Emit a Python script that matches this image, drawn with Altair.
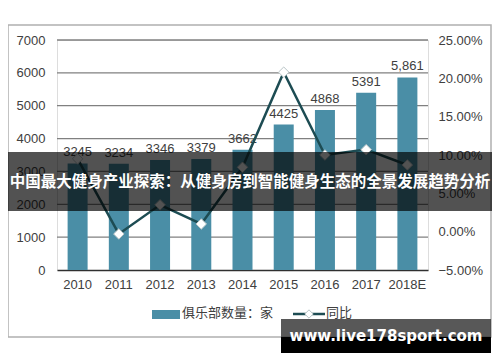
import altair as alt
import pandas as pd

years = ["2010", "2011", "2012", "2013", "2014", "2015", "2016", "2017", "2018E"]
clubs = [3245, 3234, 3346, 3379, 3662, 4425, 4868, 5391, 5861]
club_labels = ["3245", "3234", "3346", "3379", "3662", "4425", "4868", "5391", "5,861"]
growth = [0.095, -0.003, 0.035, 0.010, 0.084, 0.208, 0.100, 0.107, 0.087]
left_ticks = [0, 1000, 2000, 3000, 4000, 5000, 6000, 7000]
right_ticks = [-0.05, 0, 0.05, 0.10, 0.15, 0.20, 0.25]

df = pd.DataFrame({"year": years, "clubs": clubs, "label": club_labels, "growth": growth})
grid_df = pd.DataFrame({"gridv": left_ticks[1:]})
one = pd.DataFrame({"k": [0]})

TXT = "#404040"
BAR = "#4a8ea6"
LINE = "#1d4c53"
FONT = "Liberation Sans"

xenc = alt.X("year:N", sort=years,
             scale=alt.Scale(paddingInner=0, paddingOuter=0),
             axis=alt.Axis(title=None, labelAngle=0, labelFontSize=13, labelColor=TXT,
                           labelFont=FONT, ticks=False, domainColor="#303030",
                           domainWidth=1.5, labelPadding=8, grid=False, labelOverlap=False))

frame = alt.Chart(one).mark_rect(fill="transparent", stroke="#b0b0b0", strokeWidth=1.5).encode(
    x=alt.value(-49), x2=alt.value(434), y=alt.value(-15), y2=alt.value(297))

# gridlines: own layer with its own (identical) scale and no axis
gridlayer = alt.Chart(grid_df).mark_rule(color="#808080", strokeWidth=1.3).encode(
    y=alt.Y("gridv:Q", scale=alt.Scale(domain=[0, 7000], nice=False), axis=None),
    x=alt.value(0), x2=alt.value(371))

yl = alt.Y("clubs:Q", scale=alt.Scale(domain=[0, 7000], nice=False),
           axis=alt.Axis(title=None, orient="left", values=left_ticks, format="d", tickCount=8,
                         labelFontSize=13, labelColor=TXT, labelFont=FONT, ticks=False,
                         domain=False, grid=False, labelPadding=12, labelOverlap=False))
lbase = alt.Chart(df).encode(x=xenc, y=yl)
left = alt.layer(
    lbase.mark_bar(size=20, color=BAR),
    lbase.mark_text(baseline="bottom", dy=-4, fontSize=13, color=TXT, font=FONT).encode(text="label:N"),
)

yr = alt.Y("growth:Q", scale=alt.Scale(domain=[-0.05, 0.25], nice=False),
           axis=alt.Axis(title=None, orient="right", values=right_ticks, tickCount=7,
                         format=".2%", labelFontSize=13, labelColor=TXT, labelFont=FONT,
                         ticks=False, domain=False, grid=False, labelPadding=10,
                         labelOverlap=False))
rbase = alt.Chart(df).encode(x=alt.X("year:N", sort=years), y=yr)
right = alt.layer(
    rbase.mark_line(color=LINE, strokeWidth=2.5),
    rbase.mark_point(shape="diamond", size=110, filled=True, fill="white",
                     stroke="#b8c4c6", strokeWidth=1, opacity=1),
)

# legend
leg_sw = alt.Chart(one).mark_rect(color=BAR).encode(
    x=alt.value(95), x2=alt.value(123), y=alt.value(270), y2=alt.value(279))
leg_t1 = alt.Chart(one).mark_text(align="left", baseline="middle", fontSize=13, color=TXT,
                                  font="Noto Sans CJK SC").encode(
    x=alt.value(125), y=alt.value(273), text=alt.value("俱乐部数量：家"))
leg_ln = alt.Chart(one).mark_rule(color=LINE, strokeWidth=2.5).encode(
    x=alt.value(236), x2=alt.value(268), y=alt.value(274))
leg_pt = alt.Chart(one).mark_point(shape="diamond", size=70, filled=True, fill="white",
                                   stroke="#b8c4c6", strokeWidth=1, opacity=1).encode(
    x=alt.value(252), y=alt.value(274))
leg_t2 = alt.Chart(one).mark_text(align="left", baseline="middle", fontSize=13, color=TXT,
                                  font="Noto Sans CJK SC").encode(
    x=alt.value(269), y=alt.value(273), text=alt.value("同比"))

# overlays
banner = alt.Chart(one).mark_rect(color="black", opacity=0.68).encode(
    x=alt.value(-57), x2=alt.value(443), y=alt.value(112), y2=alt.value(171))
banner_t = alt.Chart(one).mark_text(align="center", baseline="middle", fontSize=15.5,
                                    fontWeight="bold", color="white",
                                    font="Noto Sans CJK SC").encode(
    x=alt.value(193), y=alt.value(142),
    text=alt.value("中国最大健身产业探索：从健身房到智能健身生态的全景发展趋势分析"))
wm1 = alt.Chart(one).mark_rect(color="#333333", opacity=0.82).encode(
    x=alt.value(224), x2=alt.value(434), y=alt.value(279), y2=alt.value(297))
wm2 = alt.Chart(one).mark_rect(color="black").encode(
    x=alt.value(224), x2=alt.value(434), y=alt.value(297), y2=alt.value(313))
wm_t = alt.Chart(one).mark_text(align="center", baseline="middle", fontSize=15,
                                fontWeight="bold", color="white", font="DejaVu Sans").encode(
    x=alt.value(329), y=alt.value(296), text=alt.value("www.live178sport.com"))

chart = alt.layer(frame, gridlayer, left, right, leg_sw, leg_t1, leg_ln, leg_pt, leg_t2,
                  banner, banner_t, wm1, wm2, wm_t).resolve_scale(y="independent").properties(
    width=371, height=230,
    autosize=alt.AutoSizeParams(type="none"),
    padding={"left": 49, "top": 32, "right": 64, "bottom": 84},
).configure_view(stroke=None).configure(background="white")

chart.save("out.html", embed_options={"renderer": "svg", "actions": False})
